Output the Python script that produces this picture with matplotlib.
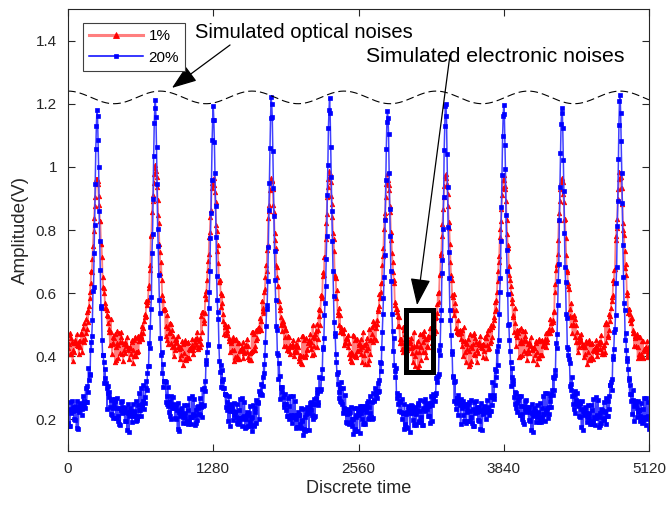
import numpy as np
import matplotlib
matplotlib.use("Agg")
import matplotlib.pyplot as plt
from matplotlib.patches import Rectangle

plt.rcParams['font.family'] = ['Liberation Sans', 'DejaVu Sans']

# --- values ---
peak_pos = [256, 768, 1280, 1792, 2304, 2816, 3328, 3840, 4352, 4864]
period = 512
red_peak = [0.97, 1.00, 0.97, 0.96, 0.98, 0.97, 0.98, 0.97, 0.96, 0.98]
blue_peak = [1.18, 1.21, 1.185, 1.22, 1.21, 1.18, 1.205, 1.20, 1.19, 1.22]
red_floor, blue_floor = 0.42, 0.21
red_finesse, blue_finesse = 12, 32
red_noise, blue_noise = 0.022, 0.023

# dashed "optical noise" envelope: level, half swing, period, first crest
env_level, env_swing, env_period, env_crest = 1.22, 0.02, 811, 811

# spread of the noisy band, hand-read offsets (in units of the band sigma)
jitter = [0.3, -1.2, 0.8, 1.5, -0.4, -0.9, 0.1, 2.1, -1.6, 0.6,
          -0.2, 1.1, -2.3, 0.4, 0.9, -0.7, 1.8, -0.1, -1.3, 0.5,
          1.2, -0.6, -1.9, 0.2, 0.7, 1.4, -0.3, -1.1, 2.4, -0.8,
          0.0, 1.0, -1.5, 0.6, -0.5, 1.7, -2.0, 0.3, 0.8, -1.0,
          1.3, -0.2, -0.7, 2.0, -1.4, 0.1, 0.9, -2.6, 0.5, 1.1,
          -0.9, 0.4, 1.6, -1.2, -0.3, 0.7, -1.7, 1.9, 0.2, -0.6,
          1.0, -2.2, 0.6, -0.1, 1.4, -0.8, 0.3, -1.3, 2.2, -0.4,
          0.8, -1.0, 1.2, -1.8, 0.0, 0.5, 1.5, -0.5, -1.1, 0.9,
          2.5, -0.2, -1.6, 0.4, 1.1, -0.7, -2.1, 0.6, 0.2]

x_ticks = [0, 1280, 2560, 3840, 5120]
y_ticks = [0.2, 0.4, 0.6, 0.8, 1.0, 1.2, 1.4]
y_ticklabels = ["0.2", "0.4", "0.6", "0.8", "1", "1.2", "1.4"]

# --- build the traces ---
t = np.arange(0, 5121, 5)
k = np.clip(np.round((t - peak_pos[0]) / period).astype(int), 0, len(peak_pos) - 1)
s2 = np.sin(np.pi * (t - peak_pos[0]) / period) ** 2
jit = np.array(jitter)
idx = np.arange(len(t))


def trace(peaks, floor, finesse, sigma, stride, shift):
    h = np.array(peaks)[k]
    base = (floor * (1 + finesse) - h) / finesse
    amp = h - base
    clean = amp / (1 + finesse * s2) + base
    # noise is smaller up on the narrow peaks
    w = 1 - 0.75 * (clean - floor) / (h - floor)
    return clean + w * sigma * jit[(idx * stride + shift) % len(jit)]


red = trace(red_peak, red_floor, red_finesse, red_noise, 7, 0)
blue = trace(blue_peak, blue_floor, blue_finesse, blue_noise, 13, 5)
env = env_level + env_swing * np.cos(2 * np.pi * (t - env_crest) / env_period)

# --- figure ---
fig = plt.figure(figsize=(6.66, 5.08), dpi=100)
ax = fig.add_axes([68 / 666, (508 - 451) / 508, 581 / 666, 442 / 508])

ax.plot(t, red, color='#ff7f7f', lw=1.3, marker='^', ms=3.2, mfc='red', mec='red', mew=0.6, label='1%')
ax.plot(t, blue, color='#4040ff', lw=1.1, marker='s', ms=2.2, mfc='blue', mec='blue', mew=0.5, label='20%')
ax.plot(t, env, color='black', lw=0.8, dashes=(7, 3.6))

ax.add_patch(Rectangle((2975, 0.35), 245, 0.197, fill=False, ec='black', lw=3.6, zorder=5))

ax.annotate('', xy=(916, 1.250), xytext=(1428, 1.386),
            arrowprops=dict(arrowstyle='-|>,head_length=1.1,head_width=0.4', mutation_scale=14,
                            color='black', lw=0.9, shrinkA=0, shrinkB=0))
ax.annotate('', xy=(3076, 0.562), xytext=(3366, 1.354),
            arrowprops=dict(arrowstyle='-|>,head_length=1.2,head_width=0.45', mutation_scale=14,
                            color='black', lw=0.9, shrinkA=0, shrinkB=0))
ax.text(1119, 1.427, 'Simulated optical noises', fontsize=14.5, va='center', ha='left')
ax.text(2626, 1.348, 'Simulated electronic noises', fontsize=15.3, va='center', ha='left')

ax.set_xlim(0, 5120)
ax.set_ylim(0.1, 1.5)
ax.set_xticks(x_ticks)
ax.set_xticklabels([str(v) for v in x_ticks])
ax.set_yticks(y_ticks)
ax.set_yticklabels(y_ticklabels)
ax.tick_params(direction='in', top=True, right=True, length=5, width=0.8,
               labelsize=11, labelcolor='#262626', color='#262626', pad=8)
for sp in ax.spines.values():
    sp.set_color('#262626')
    sp.set_linewidth(0.8)
ax.set_xlabel('Discrete time', fontsize=13, color='#262626', labelpad=3)
ax.set_ylabel('Amplitude(V)', fontsize=13.5, color='#262626', labelpad=5)

leg = ax.legend(loc='upper left', bbox_to_anchor=(83 / 666, 1 - 23 / 508), bbox_transform=fig.transFigure,
                borderaxespad=0, fontsize=11, handlelength=3.5, handletextpad=0.4, numpoints=1,
                borderpad=0.4, labelspacing=0.5, fancybox=False, framealpha=1, edgecolor='#404040',
                markerscale=1.3)
leg.get_frame().set_linewidth(0.8)
leg.get_lines()[0].set_linewidth(2.2)
leg.get_lines()[1].set_color('blue')

fig.savefig('out.png', dpi=100)
